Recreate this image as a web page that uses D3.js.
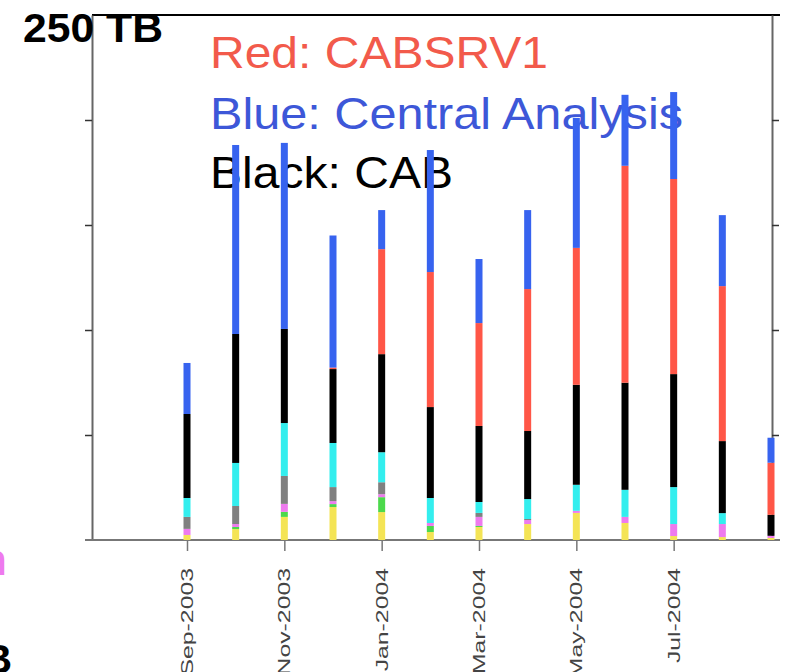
<!DOCTYPE html>
<html>
<head>
<meta charset="utf-8">
<script src="https://cdn.jsdelivr.net/npm/d3@7"></script>
<style>
body { margin: 0; background: #fff; }
text { font-family: "Liberation Sans", Arial, Helvetica, sans-serif; }
</style>
</head>
<body>
<script>
var w = 785;
var h = 672;

// months shown on the x axis (one bar each)
var months = ["Sep-2003", "Oct-2003", "Nov-2003", "Dec-2003", "Jan-2004", "Feb-2004",
    "Mar-2004", "Apr-2004", "May-2004", "Jun-2004", "Jul-2004", "Aug-2004", "Sep-2004"];
var tickMonths = ["Sep-2003", "Nov-2003", "Jan-2004", "Mar-2004", "May-2004", "Jul-2004"];
var yTicks = [50, 100, 150, 200];

// stacked series, bottom to top, TB per month
var yellowVals  = [2.4, 5.2, 11.0, 15.7, 13.3, 3.8, 6.2, 7.6, 12.9, 8.1, 1.9, 1.4, 1.0];
var greenVals   = [0, 1.0, 2.4, 1.4, 7.1, 2.9, 0.5, 0, 0, 0, 0, 0, 0];
var magentaVals = [2.9, 1.4, 3.8, 1.4, 1.4, 1.4, 4.3, 1.9, 1.0, 2.9, 5.7, 6.2, 1.0];
var grayVals    = [5.7, 8.6, 13.3, 6.7, 5.7, 0, 1.9, 0.5, 0, 0, 0, 0, 0];
var cyanVals    = [9.0, 20.5, 25.2, 21.0, 14.3, 11.9, 5.2, 9.5, 12.4, 12.9, 17.6, 5.2, 0];
var cabVals     = [40.0, 61.4, 44.8, 35.2, 46.7, 43.3, 36.2, 32.4, 47.6, 51.0, 53.8, 34.3, 10.0];
var cabsrv1Vals = [0, 0, 0, 0.7, 50.0, 64.3, 49.0, 67.6, 65.2, 103.3, 92.9, 73.8, 24.8];
var centralVals = [24.3, 90.0, 88.6, 62.9, 18.6, 58.1, 30.5, 37.6, 61.9, 33.8, 41.4, 33.8, 11.9];

var seriesKeys = ["yellow", "green", "magenta", "gray", "cyan", "CAB", "CABSRV1", "Central Analysis"];
var seriesVals = [yellowVals, greenVals, magentaVals, grayVals, cyanVals, cabVals, cabsrv1Vals, centralVals];
var seriesColors = ["#f4e455", "#4cd94c", "#ee7aee", "#808080", "#33eeee", "#000000", "#ff5647", "#3763ef"];

var table = months.map(function(m, i) {
    var row = { month: m };
    seriesKeys.forEach(function(k, j) { row[k] = seriesVals[j][i]; });
    return row;
});

var svg = d3.select("body")
    .append("svg")
    .attr("width", w)
    .attr("height", h);

svg.append("rect").attr("width", w).attr("height", h).attr("fill", "#fff");

var x = d3.scalePoint().domain(months).range([187, 771]);
var y = d3.scaleLinear().domain([0, 250]).range([540, 15]);

// legend text (bars are drawn over it)
var legend = [
    { t: "Red: CABSRV1", c: "#f25a4b", y: 68, len: 338 },
    { t: "Blue: Central Analysis", c: "#3d57d8", y: 129, len: 473 },
    { t: "Black: CAB", c: "#000", y: 188, len: 243 }
];
svg.selectAll(".leg")
    .data(legend)
    .enter().append("text")
    .attr("class", "leg")
    .attr("x", 210)
    .attr("y", function(d) { return d.y; })
    .attr("fill", function(d) { return d.c; })
    .attr("font-size", 45)
    .attr("textLength", function(d) { return d.len; })
    .attr("lengthAdjust", "spacingAndGlyphs")
    .text(function(d) { return d.t; });

// frame
svg.append("line").attr("x1", 92).attr("x2", 780).attr("y1", y(250)).attr("y2", y(250))
    .attr("stroke", "#000").attr("stroke-width", 2);

var left = svg.append("g").attr("transform", "translate(92,0)")
    .call(d3.axisLeft(y).tickValues(yTicks).tickSize(7).tickSizeOuter(0).tickFormat(""));
var right = svg.append("g").attr("transform", "translate(772,0)")
    .call(d3.axisRight(y).tickValues(yTicks).tickSize(7).tickSizeOuter(0).tickFormat(""));
[left, right].forEach(function(g) {
    g.select(".domain").attr("stroke", "#666").attr("stroke-width", 2);
    g.selectAll(".tick line").attr("stroke", "#333").attr("stroke-width", 1.5);
});

var bottom = svg.append("g").attr("transform", "translate(0,540)")
    .call(d3.axisBottom(x).tickValues(tickMonths).tickSize(11).tickSizeOuter(0).tickFormat(""));
bottom.select(".domain").remove();
bottom.selectAll(".tick line").attr("stroke", "#777").attr("stroke-width", 1.5);
svg.append("line").attr("x1", 85).attr("x2", 780).attr("y1", 540).attr("y2", 540)
    .attr("stroke", "#777").attr("stroke-width", 2);

// stacked bars
var stack = d3.stack().keys(seriesKeys)(table);
var barW = 7;
svg.append("g")
    .selectAll("g")
    .data(stack)
    .enter().append("g")
    .attr("fill", function(d, i) { return seriesColors[i]; })
    .selectAll("rect")
    .data(function(d) { return d; })
    .enter().append("rect")
    .attr("x", function(d) { return x(d.data.month) - barW / 2; })
    .attr("y", function(d) { return y(d[1]); })
    .attr("width", barW)
    .attr("height", function(d) { return y(d[0]) - y(d[1]); });

// month labels, rotated
svg.selectAll(".mlab")
    .data(tickMonths)
    .enter().append("text")
    .attr("class", "mlab")
    .attr("transform", function(d) { return "translate(" + (x(d) + 6) + ",568) rotate(-90) scale(1.55,1)"; })
    .attr("text-anchor", "end")
    .attr("font-size", 16)
    .attr("fill", "#444")
    .text(function(d) { return d; });

// y labels
svg.append("text").attr("x", 23).attr("y", 42)
    .attr("font-size", 41).attr("font-weight", "bold")
    .attr("textLength", 140).attr("lengthAdjust", "spacingAndGlyphs")
    .text("250 TB");
svg.append("text").attr("x", 12).attr("y", 673).attr("text-anchor", "end")
    .attr("font-size", 41).attr("font-weight", "bold")
    .text("0 TB");
svg.append("text").attr("x", 7).attr("y", 575).attr("text-anchor", "end")
    .attr("font-size", 44).attr("font-weight", "bold").attr("fill", "#ee7aee")
    .text("n");
</script>
</body>
</html>
